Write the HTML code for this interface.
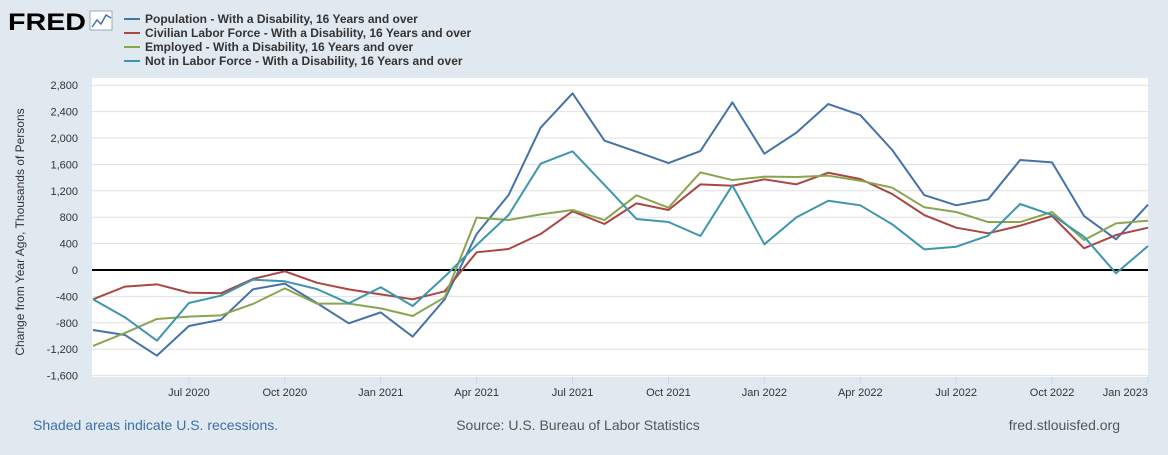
<!DOCTYPE html>
<html><head><meta charset="utf-8"><style>
body{margin:0;width:1168px;height:450px;background:#e1e9f0;font-family:"Liberation Sans",sans-serif;overflow:hidden}
</style></head><body>
<svg width="1168" height="450" xmlns="http://www.w3.org/2000/svg" font-family="Liberation Sans, sans-serif">
<g>
<text x="8" y="30" font-size="24" font-weight="bold" fill="#000" textLength="78" lengthAdjust="spacingAndGlyphs">FRED</text>
<rect x="90" y="11" width="22" height="19" fill="#fff" stroke="#9ab" stroke-width="1"/>
<polyline points="92,27 97,20 101,24 106,15 111,18" fill="none" stroke="#4572a7" stroke-width="1.5"/>
</g>
<g id="legend" font-size="12" font-weight="bold" fill="#333"></g>
<rect x="92" y="78" width="1056" height="299" fill="#fff"/>
<g id="grid"></g><g id="yt" font-size="11" fill="#333" text-anchor="end"></g>
<g id="xt" font-size="11" fill="#333" text-anchor="middle"></g>
<g id="series"></g>
<text transform="translate(24,232) rotate(-90)" font-size="12" fill="#333" text-anchor="middle">Change from Year Ago, Thousands of Persons</text>
<text x="33" y="430" font-size="14" fill="#3d6fa8">Shaded areas indicate U.S. recessions.</text>
<text x="578" y="430" font-size="14" fill="#555" text-anchor="middle">Source: U.S. Bureau of Labor Statistics</text>
<text x="1120" y="430" font-size="14" fill="#555" text-anchor="end">fred.stlouisfed.org</text>
</svg>
<script>
const seriesNames=["Population - With a Disability, 16 Years and over","Civilian Labor Force - With a Disability, 16 Years and over","Employed - With a Disability, 16 Years and over","Not in Labor Force - With a Disability, 16 Years and over"];
const colors=["#4572a7","#aa4643","#89a54e","#3d96ae"];
const population=[-909,-985,-1298,-848,-753,-293,-207,-500,-808,-642,-1010,-444,545,1136,2156,2677,1959,1792,1621,1803,2540,1762,2080,2515,2348,1818,1136,980,1071,1666,1631,818,465,990];
const laborForce=[-444,-252,-217,-343,-353,-136,-20,-192,-293,-369,-444,-323,268,318,545,889,697,1010,909,1298,1277,1374,1298,1474,1379,1151,833,641,556,671,818,329,530,641];
const employed=[-1151,-954,-742,-707,-687,-515,-278,-510,-510,-581,-697,-414,793,757,843,909,757,1131,944,1479,1363,1414,1409,1429,1353,1247,950,879,727,727,879,454,707,747];
const notInLF=[-444,-717,-1071,-500,-389,-147,-171,-288,-505,-262,-545,-101,379,833,1611,1798,1288,773,727,515,1283,389,798,1050,980,692,313,353,520,1000,833,505,-50,364];
const yTicks=[2800,2400,2000,1600,1200,800,400,0,-400,-800,-1200,-1600];
const xLabels=[[3,"Jul 2020"],[6,"Oct 2020"],[9,"Jan 2021"],[12,"Apr 2021"],[15,"Jul 2021"],[18,"Oct 2021"],[21,"Jan 2022"],[24,"Apr 2022"],[27,"Jul 2022"],[30,"Oct 2022"],[33,"Jan 2023"]];
const NS="http://www.w3.org/2000/svg";
const X=i=>93+i*(1055/33), Y=v=>270-v*(26.4/400);
function mk(t,a,p){const e=document.createElementNS(NS,t);for(const k in a)e.setAttribute(k,a[k]);p.appendChild(e);return e;}
const g=document.getElementById('grid'),yt=document.getElementById('yt'),xt=document.getElementById('xt'),sg=document.getElementById('series'),lg=document.getElementById('legend');
yTicks.forEach(v=>{
 const l=mk('line',{x1:92,x2:1148,y1:Y(v),y2:Y(v),stroke:v===0?'#000':'#e0e0e0','stroke-width':v===0?2:1},g);
 
 
 const t=mk('text',{x:78,y:Y(v)+4},yt);t.textContent=v.toLocaleString('en-US');
 
 
});
xLabels.forEach(([i,s])=>{
 const last=X(i)+24>1160;
 const t=mk('text',{x:last?1148:X(i),y:396,'text-anchor':last?'end':'middle'},xt);t.textContent=s;
 
 
 const k=mk('line',{x1:X(i),x2:X(i),y1:377,y2:384,stroke:'#ccd6eb'},xt);
 
 
});
[population,laborForce,employed,notInLF].forEach((d,s)=>{
 const p=mk('polyline',{points:d.map((v,i)=>X(i)+','+Y(v)).join(' '),fill:'none',stroke:colors[s],'stroke-width':2,'stroke-linejoin':'round'},sg);
 
 
 const e=mk('g',{},lg);
 
 
 mk('line',{x1:124,x2:140,y1:19+s*14,y2:19+s*14,stroke:colors[s],'stroke-width':2},e);
 const t=mk('text',{x:145,y:23+s*14},e);t.textContent=seriesNames[s];
});
</script>
</body></html>
